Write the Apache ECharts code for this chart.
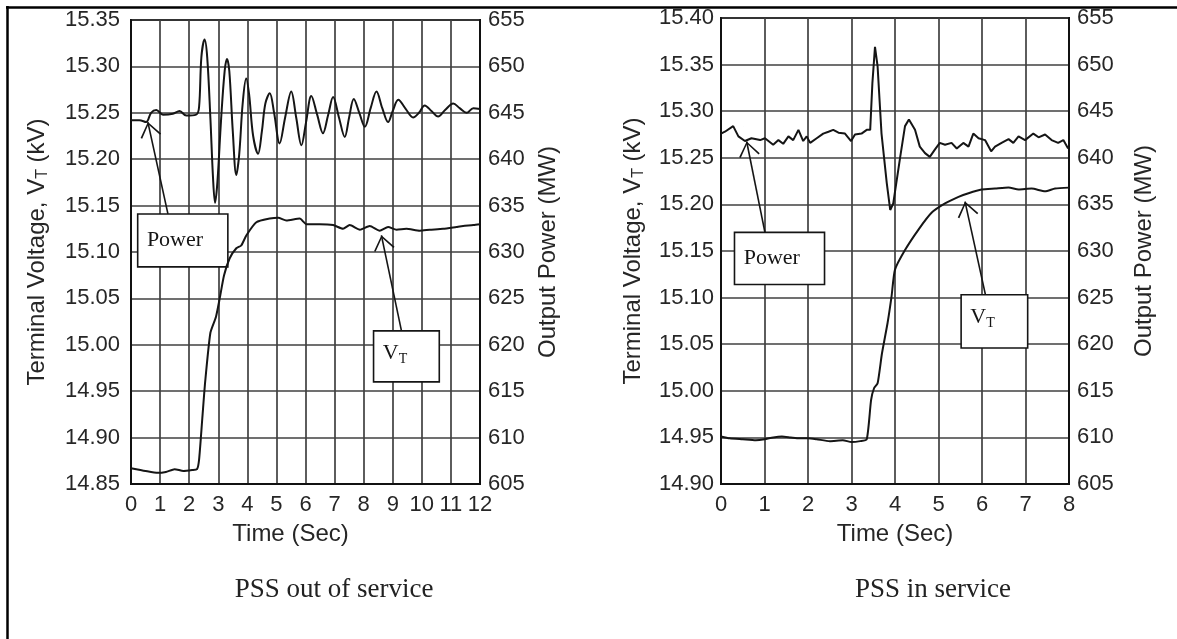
<!DOCTYPE html>
<html>
<head>
<meta charset="utf-8">
<script src="https://cdn.jsdelivr.net/npm/echarts@6/dist/echarts.min.js"></script>
<style>
html, body { margin: 0; padding: 0; background: #fff; }
#main { width: 1177px; height: 639px; }
</style>
</head>
<body>
<div id="main"></div>
<script>
// ---- PSS out of service (left panel) ----
var outPowerTime = [0, 0.29, 0.52, 0.69, 0.87, 1.1, 1.44, 1.67, 1.9, 2.24, 2.34, 2.42, 2.53, 2.62, 2.73, 2.82, 2.89, 2.97, 3.1, 3.22, 3.3, 3.38, 3.5, 3.62, 3.72, 3.84, 3.96, 4.06, 4.2, 4.37, 4.5, 4.62, 4.77, 4.92, 5.11, 5.3, 5.51, 5.68, 5.86, 6.02, 6.2, 6.4, 6.6, 6.78, 6.95, 7.15, 7.35, 7.5, 7.66, 7.85, 8.04, 8.24, 8.44, 8.64, 8.84, 9.0, 9.19, 9.45, 9.7, 9.9, 10.1, 10.33, 10.56, 10.8, 11.08, 11.3, 11.54, 11.77, 12];
var outPower = [644.2, 644.2, 644.0, 645.0, 645.3, 644.8, 644.9, 645.2, 644.7, 644.8, 645.6, 651.0, 652.9, 651.0, 644.4, 638.0, 635.3, 637.5, 644.4, 649.5, 650.8, 649.5, 643.0, 638.3, 640.5, 646.0, 648.7, 647.0, 642.5, 640.6, 643.0, 646.0, 647.1, 645.0, 641.7, 644.5, 647.3, 644.5, 641.5, 644.0, 646.8, 644.8, 642.8, 644.8, 646.7, 644.5, 642.4, 644.5, 646.5, 645.0, 643.5, 645.5, 647.3, 645.5, 644.0, 645.2, 646.4, 645.4, 644.5, 645.0, 645.8, 645.2, 644.6, 645.3, 646.0, 645.5, 645.0, 645.5, 645.4];
var outVtTime = [0, 0.5, 0.92, 1.2, 1.5, 1.8, 2.1, 2.27, 2.34, 2.45, 2.55, 2.73, 2.92, 3.05, 3.2, 3.39, 3.62, 3.79, 3.97, 4.31, 4.77, 5.06, 5.34, 5.8, 6.03, 6.49, 6.95, 7.29, 7.52, 7.87, 8.21, 8.55, 8.84, 9.13, 9.47, 9.93, 10.27, 10.73, 11.19, 11.42, 11.77, 12];
var outVt = [14.867, 14.864, 14.862, 14.863, 14.866, 14.864, 14.865, 14.866, 14.876, 14.92, 14.96, 15.013, 15.03, 15.05, 15.075, 15.093, 15.104, 15.107, 15.118, 15.132, 15.136, 15.137, 15.134, 15.136, 15.13, 15.13, 15.129, 15.125, 15.129, 15.124, 15.128, 15.123, 15.127, 15.124, 15.125, 15.123, 15.124, 15.125, 15.127, 15.128, 15.129, 15.13];

// ---- PSS in service (right panel) ----
var inPowerTime = [0, 0.09, 0.28, 0.4, 0.55, 0.7, 0.9, 1.01, 1.2, 1.32, 1.43, 1.55, 1.66, 1.78, 1.89, 1.97, 2.05, 2.2, 2.35, 2.47, 2.58, 2.7, 2.85, 2.99, 3.08, 3.23, 3.35, 3.43, 3.48, 3.54, 3.6, 3.69, 3.81, 3.89, 3.96, 4.12, 4.23, 4.32, 4.46, 4.57, 4.69, 4.8, 4.92, 5.03, 5.15, 5.3, 5.42, 5.57, 5.69, 5.8, 5.92, 6.07, 6.21, 6.3, 6.45, 6.61, 6.72, 6.84, 6.99, 7.18, 7.3, 7.45, 7.6, 7.75, 7.87, 7.98];
var inPower = [642.6, 642.8, 643.4, 642.3, 641.8, 642.1, 641.9, 642.1, 641.4, 641.9, 641.5, 642.3, 641.9, 643.0, 641.8, 642.3, 641.6, 642.1, 642.6, 642.8, 643.0, 642.7, 642.6, 641.8, 642.5, 642.6, 643.0, 643.0, 648.0, 651.9, 649.8, 642.6, 637.3, 634.4, 635.1, 640.1, 643.4, 644.1, 643.0, 641.2, 640.5, 640.1, 640.9, 641.6, 641.4, 641.6, 641.0, 641.6, 641.2, 642.6, 642.1, 641.9, 640.7, 641.2, 641.6, 642.0, 641.6, 642.3, 641.9, 642.6, 642.2, 642.5, 641.9, 641.6, 641.9, 641.0];
var inVtTime = [0, 0.2, 0.5, 0.8, 1.0, 1.2, 1.4, 1.6, 1.8, 2.0, 2.2, 2.5, 2.8, 3.0, 3.2, 3.35, 3.45, 3.52, 3.6, 3.7, 3.83, 3.92, 4.0, 4.23, 4.54, 4.84, 5.15, 5.46, 5.69, 5.99, 6.3, 6.61, 6.84, 7.14, 7.45, 7.68, 8];
var inVt = [14.951, 14.949, 14.948, 14.947, 14.948, 14.95, 14.951, 14.95, 14.949, 14.949, 14.948, 14.946, 14.947, 14.945, 14.946, 14.948, 14.99, 15.003, 15.008, 15.04, 15.073, 15.101, 15.13, 15.151, 15.173, 15.191, 15.201, 15.208, 15.212, 15.216, 15.217, 15.218, 15.216, 15.217, 15.214, 15.217, 15.218];

// axis ranges and tick labels
var outTimeTicks = [0, 12];
var inTimeTicks = [0, 8];
var outKvRange = [14.85, 15.35];
var inKvRange = [14.90, 15.40];
var mwRange = [605, 655];

// annotations (data units: time, MW)
var outPowerBox = [0.23, 634.1, 3.33, 628.4];
var outPowerArrow = [[1.27, 634.1], [0.58, 644.0]];
var outVtBox = [8.34, 621.5, 10.6, 616.0];
var outVtArrow = [[9.3, 621.5], [8.61, 631.8]];
var inPowerBox = [0.31, 632.0, 2.38, 626.4];
var inPowerArrow = [[1.01, 632.0], [0.59, 641.75]];
var inVtBox = [5.52, 625.3, 7.05, 619.6];
var inVtArrow = [[6.08, 625.3], [5.61, 635.3]];

var sans = 'Liberation Sans, Arial, sans-serif';
var serif = 'Liberation Serif, Times New Roman, serif';
var ink = '#151515';
var textColor = '#262626';
var gridColor = '#404040';
// open V arrow head; the tiny first triangle only centres the bbox on the tip
var chevron = 'path://M10.5,-15L10.6,-15L10.5,-14.9Z M10.5,0L21,14L19.6,15L10.5,2.4L1.4,15L0,14Z';

function pairs(xs, ys) {
    return xs.map(function (x, i) { return [x, ys[i]]; });
}

function box(name, b, pos) {
    return [{ name: name, coord: [b[0], b[1]], label: { position: pos } }, { coord: [b[2], b[3]] }];
}

function arrow(a) {
    return [{ coord: a[0] }, { coord: a[1] }];
}

function timeAxis(gi, range, pad) {
    return {
        type: 'value', gridIndex: gi, min: range[0], max: range[1], interval: 1,
        name: 'Time (Sec)', nameLocation: 'middle', nameGap: 38,
        nameTextStyle: { fontFamily: sans, fontSize: 24, color: textColor, padding: pad },
        axisLine: { show: true, onZero: false, lineStyle: { color: '#111', width: 2 } },
        axisTick: { show: false },
        axisLabel: { fontFamily: sans, fontSize: 22, color: textColor, margin: 10 },
        splitLine: { show: true, lineStyle: { color: gridColor, width: 1.7 } }
    };
}

function kvAxis(gi, range, gap, margin) {
    return {
        type: 'value', gridIndex: gi, position: 'left', min: range[0], max: range[1], interval: 0.05,
        name: '{a|Terminal Voltage, V}{s|T}{a| (kV)}', nameLocation: 'middle', nameGap: gap, nameRotate: 90,
        nameTextStyle: {
            color: textColor,
            rich: {
                a: { fontFamily: sans, fontSize: 24, color: textColor, lineHeight: 28 },
                s: { fontFamily: sans, fontSize: 16, color: textColor, lineHeight: 16, verticalAlign: 'bottom' }
            }
        },
        axisLine: { show: true, lineStyle: { color: '#111', width: 2 } },
        axisTick: { show: false },
        axisLabel: {
            fontFamily: sans, fontSize: 22, color: textColor, margin: margin,
            formatter: function (v) { return v.toFixed(2); }
        },
        splitLine: { show: true, lineStyle: { color: gridColor, width: 1.7 } }
    };
}

function mwAxis(gi, gap) {
    return {
        type: 'value', gridIndex: gi, position: 'right', min: mwRange[0], max: mwRange[1], interval: 5,
        name: 'Output Power (MW)', nameLocation: 'middle', nameGap: gap, nameRotate: 90,
        nameTextStyle: { fontFamily: sans, fontSize: 24, color: textColor },
        axisLine: { show: true, lineStyle: { color: '#111', width: 2 } },
        axisTick: { show: false },
        axisLabel: { fontFamily: sans, fontSize: 22, color: textColor, margin: 8 },
        splitLine: { show: false }
    };
}

var boxStyle = {
    silent: true,
    itemStyle: { color: '#fff', borderColor: ink, borderWidth: 1.6 },
    label: {
        show: true, distance: 10, fontFamily: serif, fontSize: 22, color: ink,
        rich: {
            v: { fontFamily: serif, fontSize: 22, color: ink, lineHeight: 26 },
            s: { fontFamily: serif, fontSize: 14, color: ink, lineHeight: 14, verticalAlign: 'bottom' }
        }
    }
};

var arrowStyle = {
    silent: true,
    symbol: ['none', chevron],
    symbolSize: [21, 30],
    lineStyle: { color: ink, width: 1.6, type: 'solid' },
    label: { show: false },
    emphasis: { disabled: true }
};

function curve(name, xi, yi, data, smooth, marks) {
    var s = {
        name: name, type: 'line', xAxisIndex: xi, yAxisIndex: yi,
        data: data, showSymbol: false, smooth: smooth,
        lineStyle: { color: ink, width: 2 }, z: 3
    };
    if (marks) {
        s.markArea = Object.assign({}, boxStyle, { data: marks.boxes });
        s.markLine = Object.assign({}, arrowStyle, { data: marks.arrows });
    }
    return s;
}

var chart = echarts.init(document.getElementById('main'));
chart.setOption({
    animation: false,
    backgroundColor: '#fff',
    grid: [
        { left: 131, top: 20, width: 349, height: 464, show: true, borderColor: '#111', borderWidth: 2 },
        { left: 721, top: 18, width: 348, height: 466, show: true, borderColor: '#111', borderWidth: 2 }
    ],
    xAxis: [timeAxis(0, outTimeTicks, [0, 30, 0, 0]), timeAxis(1, inTimeTicks, [0, 0, 0, 0])],
    yAxis: [kvAxis(0, outKvRange, 80, 11), mwAxis(0, 56), kvAxis(1, inKvRange, 74, 7), mwAxis(1, 63)],
    series: [
        curve('VT out', 0, 0, pairs(outVtTime, outVt), 0.2),
        curve('Power out', 0, 1, pairs(outPowerTime, outPower), 0.35, {
            boxes: [box('Power', outPowerBox, 'insideLeft'), box('{v|V}{s|T}', outVtBox, 'insideTopLeft')],
            arrows: [arrow(outPowerArrow), arrow(outVtArrow)]
        }),
        curve('VT in', 1, 2, pairs(inVtTime, inVt), 0.2),
        curve('Power in', 1, 3, pairs(inPowerTime, inPower), false, {
            boxes: [box('Power', inPowerBox, 'insideLeft'), box('{v|V}{s|T}', inVtBox, 'insideTopLeft')],
            arrows: [arrow(inPowerArrow), arrow(inVtArrow)]
        })
    ],
    graphic: [
        { type: 'line', shape: { x1: 6, y1: 7.5, x2: 1177, y2: 7.5 }, style: { stroke: '#000', lineWidth: 2.5 } },
        { type: 'line', shape: { x1: 7.5, y1: 6, x2: 7.5, y2: 639 }, style: { stroke: '#000', lineWidth: 2.5 } },
        { type: 'text', x: 334, y: 590, style: { text: 'PSS out of service', fontFamily: serif, fontSize: 27, fill: '#222', align: 'center', verticalAlign: 'middle' } },
        { type: 'text', x: 933, y: 590, style: { text: 'PSS in service', fontFamily: serif, fontSize: 27, fill: '#222', align: 'center', verticalAlign: 'middle' } }
    ]
});
</script>
</body>
</html>
